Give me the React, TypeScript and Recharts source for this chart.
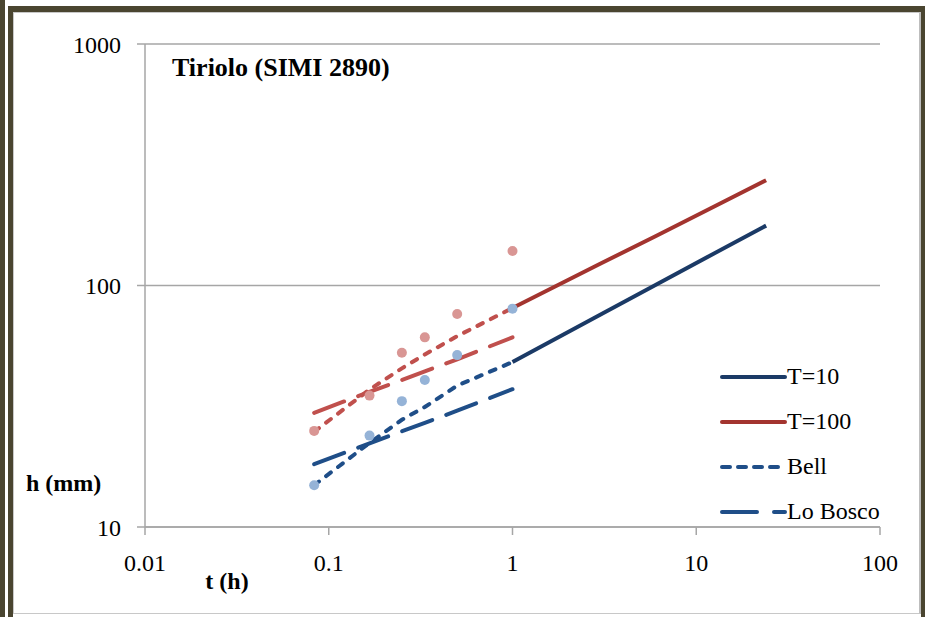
import {
  ComposedChart,
  Line,
  Scatter,
  XAxis,
  YAxis,
  CartesianGrid,
} from "recharts";

// durations (h)
const shortT = [0.0833, 0.1667, 0.25, 0.3333, 0.5, 1];
const longT = [1, 3, 6, 12, 24];

// observed maxima
const obs10 = [14.9, 23.9, 33.2, 40.6, 51.5, 80.2];
const obs100 = [25.0, 35.0, 52.7, 61.0, 76.2, 139];

// curves
const curve10 = [48.2, 75.6, 100.5, 133.5, 177];
const curve100 = [80.7, 123, 160, 209, 273];
const bell10 = [14.9, 22.3, 27.8, 31.4, 38.5, 48.2];
const bell100 = [24.8, 37.1, 45.4, 51.8, 61.7, 80.7];
const bosco10 = [18.2, 22.2, 24.9, 27.0, 30.3, 37.2];
const bosco100 = [29.7, 36.3, 40.6, 44.1, 49.5, 61.0];

const xTicks = [0.01, 0.1, 1, 10, 100];
const yTicks = [10, 100, 1000];

const NAVY = "#1B3A66";
const BLUE = "#1F4E88";
const DARKRED = "#A3342F";
const RED = "#C0504D";

const zip = (t: number[], h: number[]) => t.map((v, i) => ({ t: v, h: h[i] }));

const FONT = "'Liberation Serif', 'DejaVu Serif', serif";

const legendItems = [
  { label: "T=10", color: NAVY, dash: undefined as string | undefined },
  { label: "T=100", color: DARKRED, dash: undefined as string | undefined },
  { label: "Bell", color: BLUE, dash: "8 8" },
  { label: "Lo Bosco", color: BLUE, dash: "35 17" },
];

function LegendBox() {
  return (
    <div
      style={{
        position: "absolute",
        left: 720,
        top: 354,
        fontFamily: FONT,
        fontSize: 24,
        color: "#000",
      }}
    >
      {legendItems.map((it) => (
        <div
          key={it.label}
          style={{ display: "flex", alignItems: "center", height: 45 }}
        >
          <svg width={67} height={10} style={{ display: "block" }}>
            <line
              x1={2}
              y1={5}
              x2={65}
              y2={5}
              stroke={it.color}
              strokeWidth={4}
              strokeLinecap="round"
              strokeDasharray={it.dash}
            />
          </svg>
          <span>{it.label}</span>
        </div>
      ))}
    </div>
  );
}

const XTitle = (props: any) => {
  const { viewBox } = props;
  return (
    <text
      x={viewBox.x + 82}
      y={589}
      textAnchor="middle"
      fontFamily={FONT}
      fontWeight="bold"
      fontSize={24}
      fill="#000"
    >
      t (h)
    </text>
  );
};

const YTitle = () => {
  return (
    <text
      x={26}
      y={491}
      textAnchor="start"
      fontFamily={FONT}
      fontWeight="bold"
      fontSize={24}
      fill="#000"
    >
      h (mm)
    </text>
  );
};

const dot = (color: string) => (p: any) =>
  <circle cx={p.cx} cy={p.cy} r={5} fill={color} />;

export default function App() {
  return (
    <div
      style={{
        position: "absolute",
        left: 0,
        top: 0,
        width: 925,
        height: 617,
        background: "#fff",
        overflow: "hidden",
      }}
    >
      {/* frame */}
      <div style={{ position: "absolute", left: 0, top: 0, width: 5, height: 617, background: "#4A4530" }} />
      <div style={{ position: "absolute", left: 8, top: 6, width: 5, height: 611, background: "#4A4530" }} />
      <div style={{ position: "absolute", left: 8, top: 6, width: 917, height: 6, background: "#4A4530" }} />
      <div style={{ position: "absolute", left: 921, top: 6, width: 4, height: 611, background: "#4A4530" }} />
      <div style={{ position: "absolute", left: 13, top: 12, width: 908, height: 602, border: "1px solid #c8c8c8", borderRight: "2px solid #bdbdbd", boxSizing: "border-box" }} />

      <ComposedChart
        width={925}
        height={617}
        margin={{ top: 44, right: 45, left: 85, bottom: 30 }}
        style={{ position: "absolute", left: 0, top: 0 }}
      >
        <CartesianGrid horizontal vertical={false} stroke="#a6a6a6" strokeWidth={1.5} />
        <XAxis
          type="number"
          dataKey="t"
          scale="log"
          domain={[0.01, 100]}
          ticks={xTicks}
          allowDataOverflow
          height={60}
          stroke="#a6a6a6"
          strokeWidth={1.5}
          tickSize={8}
          tickMargin={19}
          tickFormatter={(v: number) => String(v)}
          tick={{ fill: "#000", fontFamily: FONT, fontSize: 24 }}
          label={<XTitle />}
        />
        <YAxis
          type="number"
          dataKey="h"
          scale="log"
          domain={[10, 1000]}
          ticks={yTicks}
          allowDataOverflow
          width={60}
          stroke="#a6a6a6"
          strokeWidth={1.5}
          tickSize={8}
          tickMargin={16}
          tick={{ fill: "#000", fontFamily: FONT, fontSize: 24 }}
          label={<YTitle />}
        />
        <Line data={zip(longT, curve10)} dataKey="h" stroke={NAVY} strokeWidth={4} dot={false} isAnimationActive={false} />
        <Line data={zip(longT, curve100)} dataKey="h" stroke={DARKRED} strokeWidth={4} dot={false} isAnimationActive={false} />
        <Line data={zip(shortT, bell10)} dataKey="h" stroke={BLUE} strokeWidth={4} strokeDasharray="6 9" strokeLinecap="round" dot={false} isAnimationActive={false} />
        <Line data={zip(shortT, bell100)} dataKey="h" stroke={RED} strokeWidth={4} strokeDasharray="6 9" strokeLinecap="round" dot={false} isAnimationActive={false} />
        <Line data={zip(shortT, bosco10)} dataKey="h" stroke={BLUE} strokeWidth={4} strokeDasharray="32 15" strokeLinecap="round" dot={false} isAnimationActive={false} />
        <Line data={zip(shortT, bosco100)} dataKey="h" stroke={RED} strokeWidth={4} strokeDasharray="32 15" strokeLinecap="round" dot={false} isAnimationActive={false} />
        <Scatter data={zip(shortT, obs10)} dataKey="h" shape={dot("#95B3D7")} isAnimationActive={false} />
        <Scatter data={zip(shortT, obs100)} dataKey="h" shape={dot("#D99694")} isAnimationActive={false} />
      </ComposedChart>

      <div
        style={{
          position: "absolute",
          left: 172,
          top: 53,
          fontFamily: FONT,
          fontWeight: "bold",
          fontSize: 26,
        }}
      >
        Tiriolo (SIMI 2890)
      </div>
      <LegendBox />
    </div>
  );
}
